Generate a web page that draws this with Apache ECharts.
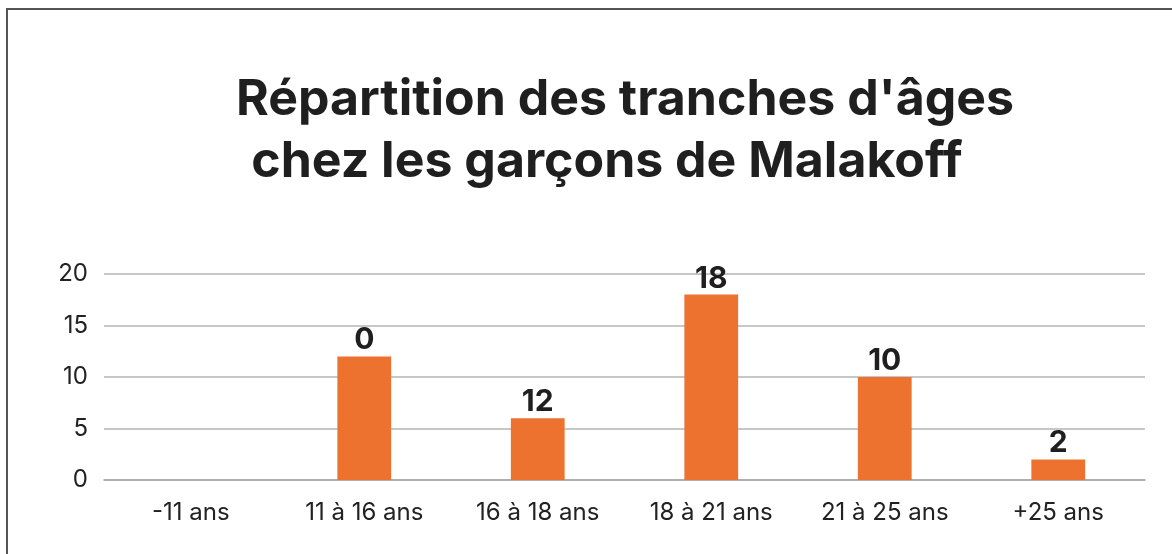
<!DOCTYPE html>
<html>
<head>
<meta charset="utf-8">
<script src="https://cdn.jsdelivr.net/npm/echarts@6/dist/echarts.min.js"></script>
<style>
	html, body { margin: 0; padding: 0; background: #fff; }
	#chart { width: 1172px; height: 554px; }
</style>
</head>
<body>
<div id="chart"></div>
<script>
	// tranches d'âge
	var categories = ['-11 ans', '11 à 16 ans', '16 à 18 ans', '18 à 21 ans', '21 à 25 ans', '+25 ans']
	// hauteur des barres
	var values = [0, 12, 6, 18, 10, 2]
	// étiquettes affichées au-dessus des barres (telles qu'elles apparaissent)
	var valueLabels = ['', '0', '12', '18', '10', '2']
	var yTicks = [0, 5, 10, 15, 20]
	var titleLines = ["Répartition des tranches d'âges", 'chez les garçons de Malakoff']

	var titleStyle = {
		fontFamily: 'Inter',
		fontWeight: 'bold',
		fontSize: 50,
		color: '#1f1f1f'
	}

	var chart = echarts.init(document.getElementById('chart'))
	var option = {
		animation: false,
		textStyle: { fontFamily: 'Inter' },
		title: [{
			text: titleLines[0],
			left: 620,
			top: 70,
			textAlign: 'center',
			textStyle: titleStyle
		}, {
			text: titleLines[1],
			left: 602,
			top: 132,
			textAlign: 'center',
			textStyle: titleStyle
		}],
		graphic: [{
			type: 'polyline',
			shape: { points: [[7, 554], [7, 9], [1172, 9]] },
			style: { stroke: '#555', lineWidth: 2, fill: null }
		}],
		grid: {
			left: 104,
			right: 27,
			top: 274,
			bottom: 74
		},
		xAxis: {
			type: 'category',
			data: categories,
			axisTick: { show: false },
			axisLine: { lineStyle: { color: '#a8a8a8', width: 1.5 } },
			axisLabel: {
				fontSize: 24,
				color: '#222',
				margin: 21
			}
		},
		yAxis: {
			type: 'value',
			min: yTicks[0],
			max: yTicks[yTicks.length - 1],
			interval: 5,
			axisLine: { show: false },
			axisTick: { show: false },
			splitLine: { lineStyle: { color: '#b4b4b4', width: 1.5 } },
			axisLabel: {
				fontSize: 24,
				color: '#222',
				margin: 16
			}
		},
		series: [{
			type: 'bar',
			data: values,
			barWidth: '31%',
			itemStyle: { color: '#ED7230' },
			label: {
				show: true,
				position: 'top',
				distance: 1,
				fontFamily: 'Inter',
				fontWeight: 'bold',
				fontSize: 30,
				color: '#1f1f1f',
				formatter: function (p) {
					return valueLabels[p.dataIndex]
				}
			}
		}]
	}
	chart.setOption(option)
</script>
</body>
</html>
